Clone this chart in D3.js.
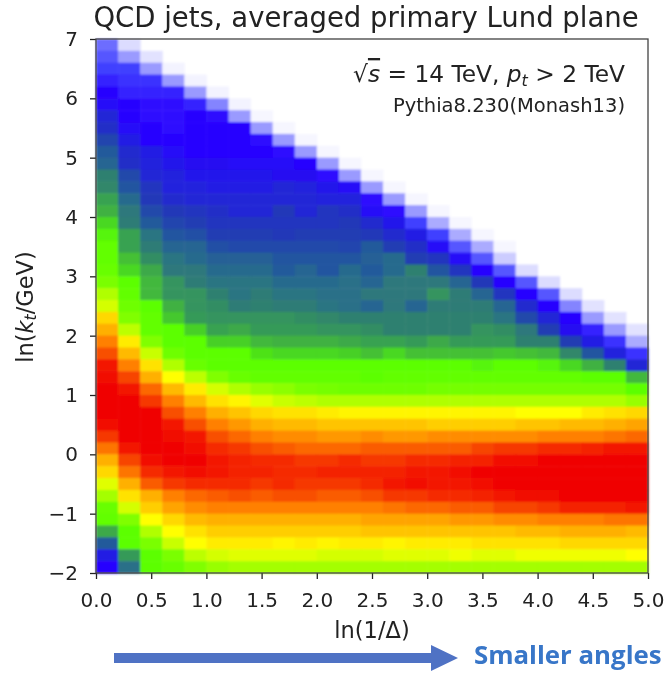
<!DOCTYPE html>
<html><head><meta charset="utf-8">
<script src="https://cdn.jsdelivr.net/npm/d3@7"></script>
<style>
html,body{margin:0;padding:0;background:#fff;}
svg{display:block;}
text{font-family:"DejaVu Sans",sans-serif;fill:#222;}
</style></head><body><div id="chart"></div>
<script>
const titleText = "QCD jets, averaged primary Lund plane";
const xTicks = [0,0.5,1,1.5,2,2.5,3,3.5,4,4.5,5];
const yTicks = [7,6,5,4,3,2,1,0,-1,-2];
const binSize = 0.2;
const colorStops = [0,4,8,12,16,20,25,30,35,40,44,48,52,56,60,66,70,74,76,80,84,88,92,96,100];
const colorValues = ["#ffffff","#f3f3ff","#dcdcff","#9a9aff","#4040ff","#2800ff","#2222dd","#2238b8","#2255a0","#2a7088","#2f8070","#359a58","#42b83c","#48d820","#5cff00","#80ff00","#b0ff00","#e0ff00","#ffff00","#ffd800","#ffb000","#ff8000","#f85000","#f42000","#f00000"];
// density index per cell, rows from ln(kt)=7 down to -2, columns from ln(1/Delta)=0 to 5
const density = [
[14,8],
[15,12,7],
[16,16,12,4],
[18,17,17,12,4],
[20,18,18,18,12,4],
[21,20,19,19,18,13,4],
[26,20,19,19,20,19,12,3],
[28,21,20,19,20,20,20,12,3],
[32,24,20,20,20,20,20,19,12,3],
[36,27,24,21,20,20,20,20,19,12,3],
[38,28,25,23,22,22,21,21,21,20,12,3],
[44,33,26,25,23,23,23,23,22,22,19,12,3],
[45,35,29,25,25,24,24,24,26,25,23,21,12,3],
[49,39,30,27,26,26,26,26,26,26,25,25,19,12,3],
[51,42,33,30,29,28,26,26,30,26,29,28,21,19,12,3],
[56,43,36,32,31,29,29,29,29,29,29,30,27,23,16,11,3],
[59,49,41,35,34,31,31,31,30,31,31,31,30,27,24,16,11,3],
[61,49,43,38,38,34,33,33,33,33,33,32,36,31,28,21,15,11,3],
[61,53,46,41,39,37,37,37,35,35,35,35,37,39,31,29,21,15,9],
[62,56,50,42,42,39,39,39,36,38,35,39,36,39,44,35,29,20,15,8],
[65,60,52,47,43,41,41,41,39,39,39,40,38,42,42,42,38,30,20,15,8],
[70,61,52,47,47,44,41,43,41,41,40,40,42,42,42,47,43,38,29,20,15,8],
[73,63,60,51,47,46,43,44,43,43,41,40,38,42,38,43,43,43,38,27,20,13,7],
[80,66,61,54,48,47,47,47,47,46,45,44,44,44,44,44,44,44,41,33,26,20,12,7],
[84,71,61,60,55,49,50,48,48,48,47,47,46,44,44,44,44,47,46,42,31,22,18,12,7],
[88,78,66,60,60,55,55,52,51,51,51,50,49,49,48,50,48,48,48,44,44,31,24,17,11],
[92,83,72,63,60,60,60,57,56,56,56,55,53,56,53,53,53,53,54,53,52,45,35,25,17],
[97,88,79,70,62,60,60,60,60,60,60,60,60,60,60,60,60,59,60,60,59,56,51,44,26],
[99,93,84,76,71,66,62,61,61,61,61,61,60,61,61,61,61,61,61,61,61,61,60,60,52],
[100,97,90,83,78,73,70,68,67,65,64,63,63,63,63,64,64,64,64,64,64,64,64,64,60],
[100,100,94,88,83,79,77,74,72,71,70,70,70,70,70,70,70,70,70,70,70,70,70,70,68],
[100,100,100,92,88,84,82,80,79,79,78,77,77,77,77,77,77,77,77,76,76,76,78,79,80],
[98,100,100,97,92,88,86,84,83,83,82,82,82,82,82,81,81,81,81,82,82,83,83,84,85],
[94,100,100,99,97,92,90,88,87,87,86,86,87,86,86,87,87,87,87,87,88,88,88,89,90],
[89,97,100,100,98,95,94,92,91,90,90,90,91,91,91,91,91,93,94,94,95,95,96,97,97],
[84,93,98,100,100,97,96,95,95,94,94,95,94,94,95,95,96,96,98,98,100,100,100,100,100],
[80,89,95,97,98,97,96,96,95,95,96,96,96,96,97,97,98,100,100,100,100,100,100,100,100],
[74,84,91,94,95,95,95,94,95,94,94,94,95,97,98,97,97,98,100,100,100,100,100,100,100],
[69,79,84,88,90,91,92,91,92,92,91,91,92,94,94,95,95,96,97,99,99,100,100,100,100],
[62,73,81,85,87,88,88,88,88,88,88,88,88,89,90,90,91,91,93,93,94,96,96,96,97],
[61,66,76,80,83,84,84,84,84,84,84,84,85,85,85,85,86,86,87,87,88,88,88,89,89],
[50,60,70,76,79,81,81,81,81,81,81,81,82,82,82,82,82,82,82,83,83,84,84,84,83],
[36,60,65,72,76,78,78,78,77,78,77,78,78,77,78,78,78,79,79,79,79,80,80,80,80],
[24,48,60,65,71,73,74,74,74,74,73,73,73,74,74,74,75,74,74,75,75,75,75,75,76],
[20,40,60,62,66,68,69,69,69,69,69,69,69,69,69,69,69,69,69,69,69,69,69,69,69]
];

const W = 667, H = 673;
const m = {left:96, right:648, top:39, bottom:573};
const x = d3.scaleLinear().domain([0,5]).range([m.left,m.right]);
const y = d3.scaleLinear().domain([-2,7]).range([m.bottom,m.top]);
const color = d3.scaleLinear().domain(colorStops).range(colorValues).clamp(true);

const svg = d3.select("#chart").append("svg").attr("width",W).attr("height",H);
const defs = svg.append("defs");
defs.append("filter").attr("id","soft").attr("x","-2%").attr("y","-2%").attr("width","104%").attr("height","104%")
  .append("feGaussianBlur").attr("stdDeviation",0.8);
defs.append("filter").attr("id","softText").attr("x","-5%").attr("y","-20%").attr("width","110%").attr("height","140%")
  .append("feGaussianBlur").attr("stdDeviation",0.4);

const cells = density.flatMap((row,r)=>row.map((v,c)=>({
  x0:c*binSize, x1:(c+1)*binSize, y1:7-r*binSize, y0:7-(r+1)*binSize, v
})));
svg.append("g").attr("filter","url(#soft)").selectAll("rect").data(cells).join("rect")
  .attr("x",d=>x(d.x0)).attr("y",d=>y(d.y1))
  .attr("width",d=>x(d.x1)-x(d.x0)+0.5).attr("height",d=>y(d.y0)-y(d.y1)+0.5)
  .attr("fill",d=>color(d.v));

const ink = svg.append("g").attr("filter","url(#softText)");
const fmtX = d=>d.toFixed(1);
const fmtY = d=>d<0?"\u2212"+Math.abs(d):String(d);
const ax = ink.append("g").attr("transform",`translate(0,${m.bottom})`)
  .call(d3.axisBottom(x).tickValues(xTicks).tickFormat(fmtX).tickSize(6).tickPadding(14));
const ay = ink.append("g").attr("transform",`translate(${m.left},0)`)
  .call(d3.axisLeft(y).tickValues(yTicks).tickFormat(fmtY).tickSize(6).tickPadding(12));
[ax,ay].forEach(a=>{
  a.selectAll("text").style("font-size","20px").style("font-family",'"DejaVu Sans"').attr("fill","#222");
  a.selectAll("line").attr("stroke","#222").attr("stroke-width",1.3);
  a.select(".domain").remove();
});
ink.append("rect").attr("x",m.left).attr("y",m.top).attr("width",m.right-m.left).attr("height",m.bottom-m.top)
  .attr("fill","none").attr("stroke","#444").attr("stroke-width",1.3);

ink.append("text").attr("x",366).attr("y",27).attr("text-anchor","middle")
  .style("font-size","27.5px").text(titleText);
ink.append("text").attr("x",372).attr("y",638).attr("text-anchor","middle")
  .style("font-size","22.5px").text("ln(1/\u0394)");
const yl = ink.append("text").attr("transform",`translate(33,${(m.top+m.bottom)/2+1}) rotate(-90)`).attr("text-anchor","middle")
  .style("font-size","22.5px");
yl.append("tspan").text("ln(");
yl.append("tspan").style("font-style","italic").text("k");
yl.append("tspan").style("font-style","italic").style("font-size","15.5px").attr("dy",3).text("t");
yl.append("tspan").attr("dy",-3).text("/GeV)");

const a1 = ink.append("text").attr("x",625).attr("y",82).attr("text-anchor","end").style("font-size","23.3px");
a1.append("tspan").text("\u221A");
a1.append("tspan").style("font-style","italic").style("text-decoration","overline").text("s");
a1.append("tspan").text(" = 14 TeV, ");
a1.append("tspan").style("font-style","italic").text("p");
a1.append("tspan").style("font-style","italic").style("font-size","16px").attr("dy",4).text("t");
a1.append("tspan").attr("dy",-4).text(" > 2 TeV");
ink.append("text").attr("x",625).attr("y",112).attr("text-anchor","end").style("font-size","19.5px").text("Pythia8.230(Monash13)");

// arrow and caption
const ar = svg.append("g");
ar.append("path").attr("d",d3.line()([[114,653],[431,653],[431,645],[458,658],[431,671],[431,663],[114,663]])+"Z").attr("fill","#4f72c4");
ar.append("text").attr("x",474).attr("y",664).style("font-family","'Open Sans',sans-serif").style("font-weight","700")
  .style("font-size","25.8px").style("fill","#3876c8").text("Smaller angles");
</script></body></html>
